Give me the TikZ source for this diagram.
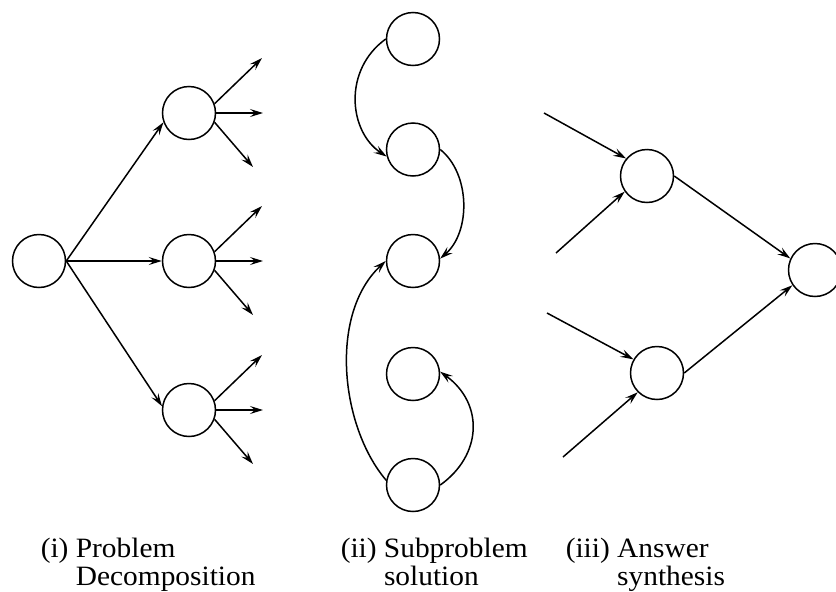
\documentclass[tikz,border=0pt]{standalone}
\usepackage{fontspec}
\setmainfont{Liberation Serif}[FakeStretch=1.05]
\usetikzlibrary{arrows.meta}

\tikzset{
    ball/.style={draw, circle, minimum size=53pt, inner sep=0pt},
    arr/.style={-{Stealth[length=13pt,width=8pt,inset=5pt]}},
    caption/.style={anchor=base west, inner sep=0pt, font=\fontsize{28}{28}\selectfont}
}

\begin{document}
\begin{tikzpicture}[x=1pt,y=-1pt,line width=1.5pt]
\useasboundingbox (0,0) rectangle (836,592);

% ===== (i) Problem decomposition =====
\node[ball] (root) at (39,261) {};
\node[ball] (p1) at (189,113) {};
\node[ball] (p2) at (189,261) {};
\node[ball] (p3) at (189,410) {};

\draw[arr] (root.east) -- (p1.200);
\draw[arr] (root.east) -- (p2.west);
\draw[arr] (root.east) -- (p3.172);

\foreach \p in {p1,p2,p3} {
    \path (\p) ++(73,-55) coordinate (\p-up)
          (\p) ++(74,0) coordinate (\p-mid)
          (\p) ++(64,54) coordinate (\p-down);
    \draw[arr] (\p.20) -- (\p-up);
    \draw[arr] (\p.east) -- (\p-mid);
    \draw[arr] (\p.-20) -- (\p-down);
}

% ===== (ii) Subproblem solution =====
\node[ball] (s1) at (413,39) {};
\node[ball] (s2) at (413,149.5) {};
\node[ball] (s3) at (413,261) {};
\node[ball] (s4) at (413,374) {};
\node[ball] (s5) at (413,485) {};

\draw[arr] (s1.west) .. controls +(-43,31) and +(-38,-25) .. (s2.195);
\draw[arr] (s2.east) .. controls +(30,24) and +(31,-27) .. (s3.5);
\draw[arr] (s5.170) .. controls +(-46,-54) and +(-57,53) .. (s3.west);
\draw[arr] (s5.east) .. controls +(42,-30) and +(44,32) .. (s4.5);

% ===== (iii) Answer synthesis =====
\node[ball] (a1) at (647,176) {};
\node[ball] (a2) at (657,373) {};
\node[ball] (ans) at (815,270) {};

\coordinate (a1-in1) at (544,113);
\coordinate (a1-in2) at (556,253);
\coordinate (a2-in1) at (547,313);
\coordinate (a2-in2) at (563,457);

\draw[arr] (a1-in1) -- (a1.140);
\draw[arr] (a1-in2) -- (a1.215);
\draw[arr] (a2-in1) -- (a2.150);
\draw[arr] (a2-in2) -- (a2.225);
\draw[arr] (a1.east) -- (ans.155);
\draw[arr] (a2.east) -- (ans.214);

% ===== Captions =====
\node[caption] (cap-i) at (40,557)
    {\begin{tabular}[t]{@{}l@{ }l@{}}(i) & Problem\\ & Decomposition\end{tabular}};
\node[caption] (cap-ii) at (340,557)
    {\begin{tabular}[t]{@{}l@{ }l@{}}(ii) & Subproblem\\ & solution\end{tabular}};
\node[caption] (cap-iii) at (565,557)
    {\begin{tabular}[t]{@{}l@{ }l@{}}(iii) & Answer\\ & synthesis\end{tabular}};

\end{tikzpicture}
\end{document}
